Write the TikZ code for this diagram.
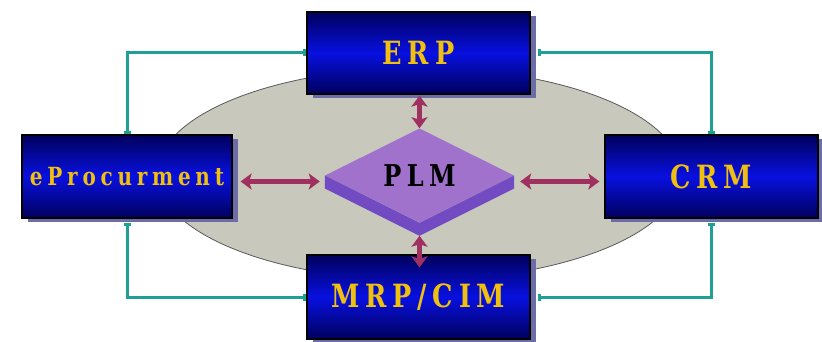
\documentclass[tikz,border=0pt]{standalone}
\usepackage{fontspec}
\usepackage{tikz}
\usetikzlibrary{arrows.meta,shapes.geometric,shadows,calc}
\newfontfamily\boxfont[FakeStretch=0.8,LetterSpace=18]{DejaVu Serif}
\definecolor{navyD}{RGB}{0,0,92}
\definecolor{blueM}{RGB}{8,16,224}
\definecolor{goldT}{RGB}{240,192,16}
\definecolor{shadowC}{RGB}{108,108,166}
\definecolor{tealL}{RGB}{30,160,150}
\definecolor{maroonA}{RGB}{160,48,96}
\definecolor{ovalC}{RGB}{200,200,188}
\definecolor{plmTop}{RGB}{160,114,204}
\definecolor{plmSide}{RGB}{114,74,194}

\begin{document}
\begin{tikzpicture}[x=1pt, y=-1pt,
  sysbox/.style={rectangle, draw=black, line width=1.2pt, inner sep=0pt,
    top color=navyD, bottom color=navyD, middle color=blueM,
    general shadow={fill=shadowC, shadow xshift=6pt, shadow yshift=-4pt},
    text=goldT, font=\boxfont\bfseries\fontsize{32}{34}\selectfont},
  link/.style={draw=tealL, line width=3pt,
    {Rectangle[length=3pt,width=7pt]}-{Rectangle[length=3pt,width=7pt]}},
  flow/.style={draw=maroonA, line width=4.5pt,
    {Stealth[length=11pt,width=16pt,inset=2.5pt]}-{Stealth[length=11pt,width=16pt,inset=2.5pt]}}]
%%%%% Frame %%%%%
\useasboundingbox (0,0) rectangle (822,342);
\fill[white] (0,0) rectangle (822,342);
\filldraw[fill=ovalC, draw=black!65, line width=0.8pt] (419,174) ellipse [x radius=262, y radius=106];
%%%%% Systems %%%%%
\node[sysbox, minimum width=223pt, minimum height=82pt] (ERP) at (418.5,53) {ERP};
\node[sysbox, minimum width=210pt, minimum height=83pt, font=\boxfont\bfseries\fontsize{25}{28}\selectfont] (eProc) at (127,176.5) {\addfontfeatures{LetterSpace=19}eProcurment};
\node[sysbox, minimum width=213pt, minimum height=83pt] (CRM) at (711.5,176.5) {CRM};
\node[sysbox, minimum width=223pt, minimum height=84pt] (MRP) at (418.5,297) {MRP/CIM};
%%%%% PLM %%%%%
\node[diamond, fill=plmTop, inner sep=0pt, minimum width=189pt, minimum height=85pt,
  font=\boxfont\bfseries\fontsize{30}{32}\selectfont] (PLM) at (419.5,175.5) {\raisebox{-4pt}{PLM}};
\fill[plmSide] (PLM.west) -- ++(0,13) -- ($(PLM.south)+(0,13)$) -- ($(PLM.east)+(0,13)$) -- (PLM.east) -- (PLM.south) -- cycle;
\coordinate (PLMbot) at ($(PLM.south)+(0,13)$);
\coordinate (PLMl) at ($(PLM.west)+(0,6)$);
\coordinate (PLMr) at ($(PLM.east)+(0,6)$);
%%%%% Connectors %%%%%
\draw[link] (ERP.west) -| (eProc.north);
\draw[link, shorten <=7pt] (ERP.east) -| (CRM.north);
\draw[link, shorten <=4pt] (eProc.south) |- (MRP.west);
\draw[link, shorten <=4pt, shorten >=7pt] (CRM.south) |- (MRP.east);
\draw[flow, shorten <=1pt] (PLM.north |- ERP.south) -- (PLM.north);
\draw[flow, shorten >=-13pt] (PLMbot) -- (PLMbot |- MRP.north);
\draw[flow, shorten <=8pt, shorten >=5pt] (eProc.east |- PLMl) -- (PLMl);
\draw[flow, shorten <=6pt, shorten >=5pt] (PLMr) -- (CRM.west |- PLMr);
\end{tikzpicture}
\end{document}
